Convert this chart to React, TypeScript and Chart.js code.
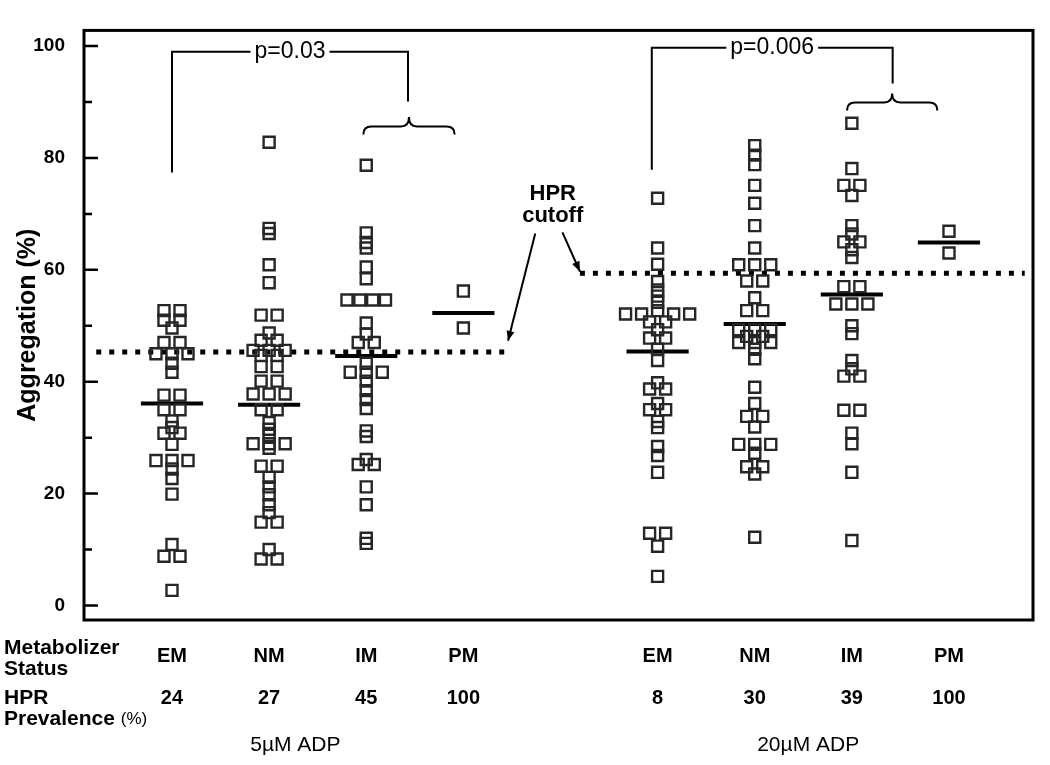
import React, { useEffect, useRef } from "react";
import { Chart, registerables } from "chart.js";

Chart.register(...registerables);

// ---------- data ----------
const categories = ["EM", "NM", "IM", "PM", "EM", "NM", "IM", "PM"];
const groupPositions = [1, 2, 3, 4, 6, 7, 8, 9];
const prevalence = ["24", "27", "45", "100", "8", "30", "39", "100"];
const groupMeans = [36.1, 35.9, 44.6, 52.3, 45.4, 50.3, 55.6, 64.9];
const hprCutoffs = [45.3, 59.4];
const concentrationLabels = ["5\u00B5M ADP", "20\u00B5M ADP"];
const pValues = ["p=0.03", "p=0.006"];
const yTickValues = [0, 20, 40, 60, 80, 100];
const yMinorTickValues = [10, 30, 50, 70, 90];

// [aggregation %, horizontal slot in the dot cluster]
const em5: [number, number][] = [
  [52.7, -0.5], [52.7, 0.5], [51.0, -0.5], [51.0, 0.5], [49.6, 0], [47.0, -0.5], [47.0, 0.5],
  [45.0, -1], [45.0, 0], [45.0, 1], [43.3, 0], [41.7, 0], [37.6, -0.5], [37.6, 0.5],
  [35.0, -0.5], [35.0, 0.5], [33.0, 0], [31.8, 0], [30.8, -0.5], [30.8, 0.5], [28.8, 0],
  [25.9, -1], [25.9, 0], [25.9, 1], [24.4, 0], [22.7, 0], [19.9, 0], [10.9, 0],
  [8.8, -0.5], [8.8, 0.5], [2.7, 0],
];
const nm5: [number, number][] = [
  [82.8, 0], [67.4, 0], [66.5, 0], [60.9, 0], [57.7, 0], [51.9, -0.5], [51.9, 0.5], [48.7, 0],
  [47.4, -0.5], [47.4, 0.5], [45.6, -1], [45.6, 0], [45.6, 1], [44.7, -0.5], [44.7, 0.5],
  [42.7, -0.5], [42.7, 0.5], [40.1, -0.5], [40.1, 0.5], [37.8, -1], [37.8, 0], [37.8, 1],
  [35.0, -0.5], [35.0, 0.5], [32.7, 0], [31.5, 0], [30.4, 0], [28.9, -1], [28.9, 0], [28.9, 1],
  [28.1, 0], [24.9, -0.5], [24.9, 0.5], [22.9, 0], [21.2, 0], [19.8, 0], [18.0, 0], [16.6, 0],
  [14.9, -0.5], [14.9, 0.5], [10.0, 0], [8.3, -0.5], [8.3, 0.5],
];
const im5: [number, number][] = [
  [78.7, 0], [66.6, 0], [64.9, 0], [63.9, 0], [60.5, 0], [58.4, 0],
  [54.6, -1.2], [54.6, -0.4], [54.6, 0.4], [54.6, 1.2], [50.5, 0], [48.5, 0], [47.0, -0.5], [47.0, 0.5],
  [43.3, 0], [41.7, -1], [41.7, 0], [41.7, 1], [40.1, 0], [38.4, 0], [36.8, 0], [35.2, 0],
  [31.2, 0], [30.2, 0], [26.1, 0], [25.2, -0.5], [25.2, 0.5], [21.2, 0], [18.0, 0], [12.0, 0], [11.1, 0],
];
const pm5: [number, number][] = [[56.2, 0], [49.6, 0]];
const em20: [number, number][] = [
  [72.8, 0], [63.9, 0], [61.0, 0], [57.9, 0], [56.4, 0], [55.3, 0], [54.2, 0], [52.7, 0],
  [52.1, -2], [52.1, -1], [52.1, 1], [52.1, 2], [50.7, -0.5], [50.7, 0.5], [49.3, 0],
  [47.8, -0.5], [47.8, 0.5], [45.8, 0], [43.8, 0], [39.8, 0], [38.7, -0.5], [38.7, 0.5], [36.1, 0],
  [35.0, -0.5], [35.0, 0.5], [32.9, 0], [31.8, 0], [28.4, 0], [26.8, 0], [23.8, 0],
  [12.9, -0.5], [12.9, 0.5], [10.6, 0], [5.2, 0],
];
const nm20: [number, number][] = [
  [82.2, 0], [80.5, 0], [78.8, 0], [75.1, 0], [71.9, 0], [67.9, 0], [63.9, 0],
  [60.9, -1], [60.9, 0], [60.9, 1], [58.0, -0.5], [58.0, 0.5], [55.0, 0], [52.7, -0.5], [52.7, 0.5],
  [49.3, -1], [49.3, 0], [49.3, 1], [48.1, -0.5], [48.1, 0.5], [47.0, -1], [47.0, 0], [47.0, 1],
  [45.8, 0], [44.1, 0], [39.0, 0], [36.1, 0], [33.8, -0.5], [33.8, 0.5], [31.9, 0],
  [28.8, -1], [28.8, 0], [28.8, 1], [27.2, 0], [24.8, -0.5], [24.8, 0.5], [23.5, 0], [12.2, 0],
];
const im20: [number, number][] = [
  [86.2, 0], [78.1, 0], [75.1, -0.5], [75.1, 0.5], [73.3, 0], [67.9, 0], [66.4, 0],
  [65.0, -0.5], [65.0, 0.5], [63.6, 0], [62.2, 0], [57.0, -0.5], [57.0, 0.5],
  [53.9, -1], [53.9, 0], [53.9, 1], [50.0, 0], [48.6, 0], [43.8, 0], [42.3, 0],
  [41.0, -0.5], [41.0, 0.5], [34.9, -0.5], [34.9, 0.5], [30.8, 0], [28.9, 0], [23.8, 0], [11.6, 0],
];
const pm20: [number, number][] = [[66.9, 0], [63.0, 0]];

const groupPoints = [em5, nm5, im5, pm5, em20, nm20, im20, pm20];

// ---------- layout constants ----------
const SLOT = 0.165; // x-units per dot slot
const MEAN_HALF = 0.32;
const FONT = 'Arial, "Liberation Sans", sans-serif';
const cutoffSpans = [
  [0.22, 4.46],
  [5.2, 9.78],
];

function drawBrace(ctx: CanvasRenderingContext2D, x0: number, x1: number, yTip: number, yBase: number, yPeak: number) {
  const xm = (x0 + x1) / 2;
  const r = 8;
  ctx.beginPath();
  ctx.moveTo(x0, yTip);
  ctx.quadraticCurveTo(x0, yBase, x0 + r, yBase);
  ctx.lineTo(xm - r, yBase);
  ctx.quadraticCurveTo(xm, yBase, xm, yPeak);
  ctx.quadraticCurveTo(xm, yBase, xm + r, yBase);
  ctx.lineTo(x1 - r, yBase);
  ctx.quadraticCurveTo(x1, yBase, x1, yTip);
  ctx.stroke();
}

function drawArrow(ctx: CanvasRenderingContext2D, x0: number, y0: number, x1: number, y1: number) {
  ctx.beginPath();
  ctx.moveTo(x0, y0);
  ctx.lineTo(x1, y1);
  ctx.stroke();
  const a = Math.atan2(y1 - y0, x1 - x0);
  const L = 10, W = 4;
  ctx.beginPath();
  ctx.moveTo(x1, y1);
  ctx.lineTo(x1 - L * Math.cos(a) + W * Math.sin(a), y1 - L * Math.sin(a) - W * Math.cos(a));
  ctx.lineTo(x1 - L * Math.cos(a) - W * Math.sin(a), y1 - L * Math.sin(a) + W * Math.cos(a));
  ctx.closePath();
  ctx.fill();
}

const annotationPlugin = {
  id: "annotations",
  afterDraw(chart: any) {
    const { ctx, chartArea, scales } = chart;
    const xs = scales.x;
    const ys = scales.y;
    const px = (v: number) => xs.getPixelForValue(v);
    const py = (v: number) => ys.getPixelForValue(v);
    ctx.save();
    ctx.strokeStyle = "#000";
    ctx.fillStyle = "#000";

    // frame
    ctx.lineWidth = 3;
    ctx.strokeRect(chartArea.left, chartArea.top, chartArea.right - chartArea.left, chartArea.bottom - chartArea.top);

    // inner tick marks
    ctx.lineWidth = 2.5;
    ctx.beginPath();
    yTickValues.forEach((v) => {
      ctx.moveTo(chartArea.left, py(v));
      ctx.lineTo(chartArea.left + 14, py(v));
    });
    yMinorTickValues.forEach((v) => {
      ctx.moveTo(chartArea.left, py(v));
      ctx.lineTo(chartArea.left + 8, py(v));
    });
    ctx.stroke();

    // p-value brackets
    ctx.lineWidth = 2;
    ctx.font = `23px ${FONT}`;
    ctx.textAlign = "center";
    ctx.textBaseline = "middle";
    const brackets = [
      { x0: 1, y0: 77.4, x1: 3.43, y1: 90.1, top: 99.0, label: pValues[0] },
      { x0: 5.94, y0: 77.9, x1: 8.42, y1: 93.3, top: 99.7, label: pValues[1] },
    ];
    brackets.forEach((b) => {
      const xa = px(b.x0), xb = px(b.x1), yt = py(b.top);
      const xm = (xa + xb) / 2;
      const tw = ctx.measureText(b.label).width;
      ctx.beginPath();
      ctx.moveTo(xa, py(b.y0));
      ctx.lineTo(xa, yt);
      ctx.lineTo(xm - tw / 2 - 4, yt);
      ctx.moveTo(xm + tw / 2 + 4, yt);
      ctx.lineTo(xb, yt);
      ctx.lineTo(xb, py(b.y1));
      ctx.stroke();
      ctx.fillText(b.label, xm, yt);
    });

    // braces
    drawBrace(ctx, px(2.97), px(3.91), py(84.2), py(85.6), py(87.3));
    drawBrace(ctx, px(7.95), px(8.88), py(88.5), py(89.9), py(91.5));

    // HPR cutoff label & arrows
    ctx.font = `bold 22px ${FONT}`;
    ctx.fillText("HPR", px(4.92), py(73.6));
    ctx.fillText("cutoff", px(4.92), py(69.6));
    ctx.lineWidth = 2;
    drawArrow(ctx, px(4.74), py(66.5), px(4.46), py(47.3));
    drawArrow(ctx, px(5.02), py(66.7), px(5.2), py(59.7));

    // bottom labels
    const b = chartArea.bottom;
    ctx.textAlign = "left";
    ctx.font = `bold 21px ${FONT}`;
    ctx.fillText("Metabolizer", 4, b + 28);
    ctx.fillText("Status", 4, b + 49);
    ctx.fillText("HPR", 4, b + 78);
    ctx.fillText("Prevalence", 4, b + 99);
    const pw = ctx.measureText("Prevalence ").width;
    ctx.font = `17px ${FONT}`;
    ctx.fillText("(%)", 4 + pw, b + 99);

    ctx.textAlign = "center";
    ctx.font = `bold 20px ${FONT}`;
    categories.forEach((c, i) => {
      ctx.fillText(c, px(groupPositions[i]), b + 36);
      ctx.fillText(prevalence[i], px(groupPositions[i]), b + 78);
    });
    ctx.font = `21px ${FONT}`;
    ctx.fillText(concentrationLabels[0], px(2.27), b + 125);
    ctx.fillText(concentrationLabels[1], px(7.55), b + 125);
    ctx.restore();
  },
};

export default function App() {
  const canvasRef = useRef<HTMLCanvasElement | null>(null);

  useEffect(() => {
    if (!canvasRef.current) return;
    const datasets: any[] = [];

    groupPoints.forEach((pts, gi) => {
      datasets.push({
        type: "scatter",
        data: pts.map(([v, s]) => ({ x: groupPositions[gi] + s * SLOT, y: v })),
        pointStyle: "rect",
        pointRadius: 7.8,
        pointBorderWidth: 2.4,
        borderColor: "#262626",
        backgroundColor: "rgba(0,0,0,0)",
        pointHoverRadius: 7.8,
      });
    });

    groupMeans.forEach((m, gi) => {
      datasets.push({
        type: "line",
        data: [
          { x: groupPositions[gi] - MEAN_HALF, y: m },
          { x: groupPositions[gi] + MEAN_HALF, y: m },
        ],
        borderColor: "#000",
        borderWidth: 4,
        pointRadius: 0,
        fill: false,
      });
    });

    hprCutoffs.forEach((c, i) => {
      datasets.push({
        type: "line",
        data: [
          { x: cutoffSpans[i][0], y: c },
          { x: cutoffSpans[i][1], y: c },
        ],
        borderColor: "#000",
        borderWidth: 5,
        borderDash: [5, 8],
        borderCapStyle: "butt",
        pointRadius: 0,
        fill: false,
      });
    });

    const chart = new Chart(canvasRef.current, {
      type: "scatter",
      data: { datasets },
      options: {
        animation: false,
        responsive: false,
        maintainAspectRatio: false,
        layout: { padding: { left: 0, top: 7, right: 17, bottom: 145 } },
        plugins: { legend: { display: false }, tooltip: { enabled: false } },
        scales: {
          x: {
            type: "linear",
            display: false,
            min: 0.094,
            max: 9.865,
          },
          y: {
            type: "linear",
            min: -2.6,
            max: 102.8,
            afterFit: (scale: any) => {
              scale.width = 84;
            },
            afterBuildTicks: (scale: any) => {
              scale.ticks = yTickValues.map((v) => ({ value: v }));
            },
            grid: { display: false, drawTicks: false },
            border: { display: false },
            ticks: {
              padding: 19,
              color: "#000",
              font: { family: FONT, size: 19, weight: "bold" },
            },
            title: {
              display: true,
              text: "Aggregation (%)",
              color: "#000",
              font: { family: FONT, size: 25, weight: "bold" },
              padding: { top: 13, bottom: 0 },
            },
          },
        },
      },
      plugins: [annotationPlugin],
    });
    return () => chart.destroy();
  }, []);

  return (
    <div style={{ position: "fixed", left: 0, top: 0, width: 1050, height: 765, background: "#fff" }}>
      <canvas ref={canvasRef} width={1050} height={765} style={{ display: "block" }} />
    </div>
  );
}
